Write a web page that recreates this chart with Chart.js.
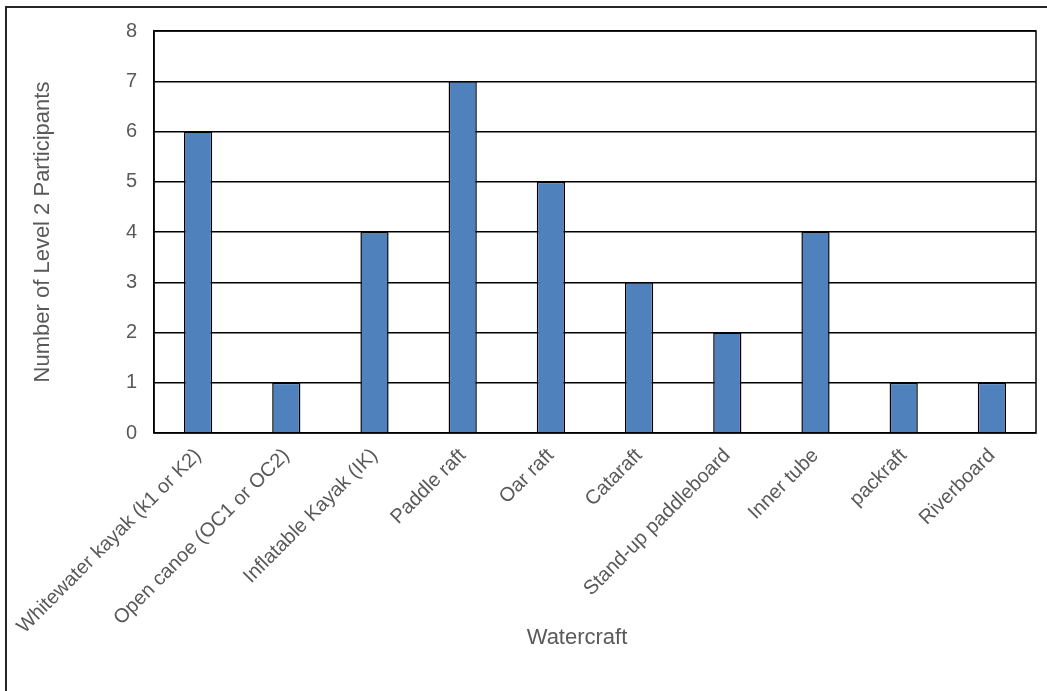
<!DOCTYPE html>
<html>
<head>
<meta charset="utf-8">
<script src="https://cdn.jsdelivr.net/npm/chart.js@4"></script>
<style>
  html, body { margin: 0; padding: 0; background: #fff; overflow: hidden; }
  .frame {
    position: absolute; left: 5px; top: 6px; width: 2000px; height: 2000px;
    border-left: 2px solid #262626; border-top: 2px solid #262626;
  }
  .chart-box { position: absolute; left: 0; top: 0; width: 1047px; height: 691px; }
</style>
</head>
<body>
<div class="frame"></div>
<div class="chart-box"><canvas id="watercraftChart"></canvas></div>
<script>
// Chart data
const watercraft = [
    'Whitewater kayak (k1 or K2)',
    'Open canoe (OC1 or OC2)',
    'Inflatable Kayak (IK)',
    'Paddle raft',
    'Oar raft',
    'Cataraft',
    'Stand-up paddleboard',
    'Inner tube',
    'packraft',
    'Riverboard'
];
const participants = [6, 1, 4, 7, 5, 3, 2, 4, 1, 1];
const yTicks = [0, 1, 2, 3, 4, 5, 6, 7, 8];

const xTitle = 'Watercraft';
const yTitle = 'Number of Level 2 Participants';

const textColor = '#595959';
const fontFamily = "'Liberation Sans', Arial, sans-serif";

document.addEventListener('DOMContentLoaded', function() {
    // box around the plot area
    const plotBox = {
        id: 'plotBox',
        afterDatasetsDraw(chart) {
            const a = chart.chartArea;
            const ctx = chart.ctx;
            ctx.save();
            ctx.strokeStyle = '#000';
            ctx.lineWidth = 1.5;
            ctx.strokeRect(a.left, a.top, a.right - a.left, a.bottom - a.top);
            ctx.restore();
        }
    };

    // x axis title sits a bit left of the plot centre in the original
    const xTitleLabel = {
        id: 'xTitleLabel',
        afterDraw(chart) {
            const ctx = chart.ctx;
            ctx.save();
            ctx.fillStyle = textColor;
            ctx.font = '22px ' + fontFamily;
            ctx.textAlign = 'center';
            ctx.textBaseline = 'middle';
            ctx.fillText(xTitle, 577, 638);
            ctx.restore();
        }
    };

    const ctx = document.getElementById('watercraftChart');
    new Chart(ctx, {
        type: 'bar',
        data: {
            labels: watercraft,
            datasets: [{
                label: yTitle,
                data: participants,
                backgroundColor: '#4F81BD',
                borderColor: '#000',
                borderWidth: 1.5,
                barPercentage: 0.32,
                categoryPercentage: 1
            }]
        },
        options: {
            responsive: true,
            maintainAspectRatio: false,
            animation: false,
            layout: {
                padding: { left: 0, top: 31, right: 11, bottom: 0 }
            },
            plugins: {
                legend: { display: false },
                tooltip: { enabled: false }
            },
            scales: {
                x: {
                    afterFit: function(scale) { scale.height = 691 - 433; },
                    grid: { display: false, drawTicks: false },
                    border: { display: false },
                    ticks: {
                        color: textColor,
                        font: { family: fontFamily, size: 20 },
                        minRotation: 45,
                        maxRotation: 45,
                        padding: 11,
                        autoSkip: false
                    }
                },
                y: {
                    min: 0,
                    max: 8,
                    afterFit: function(scale) { scale.width = 154; },
                    afterBuildTicks: function(scale) {
                        scale.ticks = yTicks.map(function(v) { return { value: v }; });
                    },
                    grid: { color: '#000', lineWidth: 1.5, drawTicks: false },
                    border: { display: true, color: '#000', width: 1.5 },
                    ticks: {
                        color: textColor,
                        font: { family: fontFamily, size: 20 },
                        padding: 17
                    },
                    title: {
                        display: true,
                        text: yTitle,
                        color: textColor,
                        font: { family: fontFamily, size: 22 },
                        padding: { top: 30, bottom: 0 }
                    }
                }
            }
        },
        plugins: [plotBox, xTitleLabel]
    });
});
</script>
</body>
</html>
